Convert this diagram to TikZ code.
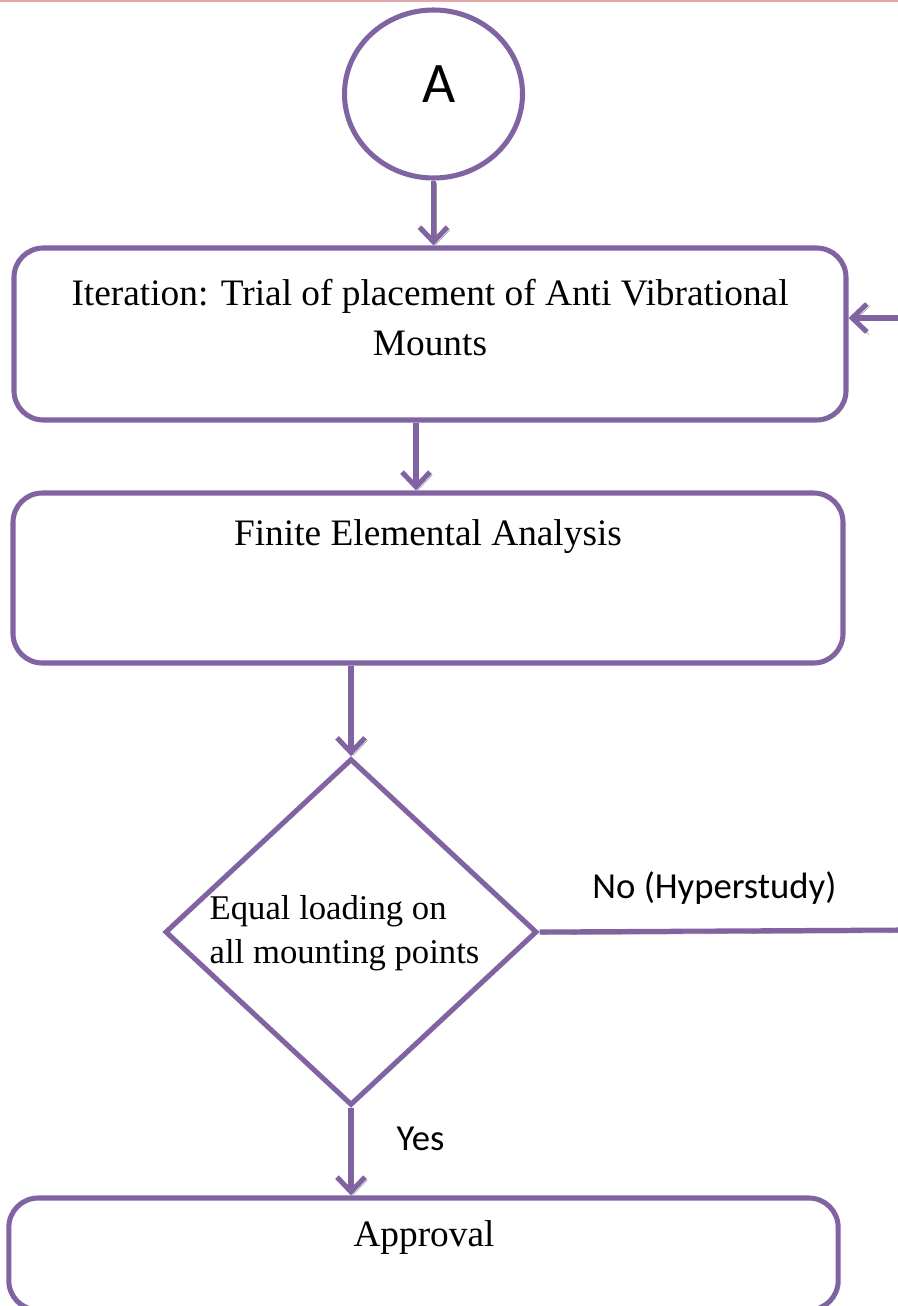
\documentclass[tikz,border=0pt]{standalone}
\usepackage{fontspec}
\setmainfont{Liberation Serif}
\newfontfamily\calibri{Carlito}
\usetikzlibrary{shapes.geometric,arrows.meta}
\definecolor{mountpurple}{RGB}{128,100,162}
\definecolor{shadegray}{RGB}{150,150,150}
\definecolor{edgepink}{RGB}{228,165,168}

\begin{document}
\begin{tikzpicture}[x=0.75pt,y=-0.75pt,
    box/.style={draw=mountpurple,line width=3.8pt,rectangle,rounded corners=22pt,inner sep=0},
    txt/.style={font=\fontsize{28}{37.5}\selectfont,align=center},
    lbl/.style={font=\calibri\fontsize{27.5}{32}\selectfont},
    shadowed/.style={preaction={draw=shadegray,transform canvas={shift={(1.8pt,-2pt)}}}},
    conn/.style={draw=mountpurple,line width=3.8pt,shadowed},
    arr/.style={conn,-{Straight Barb[length=11pt,width=21pt]}}]
    \useasboundingbox (0,0) rectangle (898,1306);
    \fill[edgepink] (0,0) rectangle (898,2.5);

    \node[draw=mountpurple,line width=3.8pt,ellipse,minimum width=133.5pt,minimum height=126pt,inner sep=0] (A) at (433.5,94) {};
    \node[font=\calibri\fontsize{43}{50}\selectfont] (tA) at (439,84) {A};

    \node[box,minimum width=624pt,minimum height=129pt] (box1) at (430,334) {};
    \node[txt] (t1) at (430,318) {Iteration: Trial of placement of Anti Vibrational\\Mounts};

    \node[box,minimum width=622.5pt,minimum height=127.5pt] (box2) at (428,578) {};
    \node[txt] (t2) at (428,537) {Finite Elemental Analysis};

    \node[draw=mountpurple,line width=3.8pt,diamond,minimum width=279pt,minimum height=260pt,inner sep=0] (q) at (351,932) {};
    \node[font=\fontsize{26}{33}\selectfont,align=left,anchor=west] (t3) at (205,933) {Equal loading on\\all mounting points};

    \node[box,minimum width=622pt,minimum height=84pt] (box3) at (423.5,1254) {};
    \node[txt] (t4) at (424,1238) {Approval};

    \coordinate (back) at (900,318);
    \coordinate (noend) at (900,930);

    \draw[arr] (A.south) -- (A.south |- box1.north);
    \draw[arr] ([xshift=-10.5pt]box1.south) -- ([xshift=-10.5pt]box1.south |- box2.north);
    \draw[arr] (q.north |- box2.south) -- (q.north);
    \draw[arr] (q.south) -- (q.south |- box3.north) node[lbl,pos=0.35,right=29pt] (yeslbl) {Yes};
    \draw[arr] (back) -- (back -| box1.east);
    \draw[conn] (q.east) -- (noend) node[lbl,midway,above=15pt,xshift=-4pt] (nolbl) {No (Hyperstudy)};
\end{tikzpicture}
\end{document}
